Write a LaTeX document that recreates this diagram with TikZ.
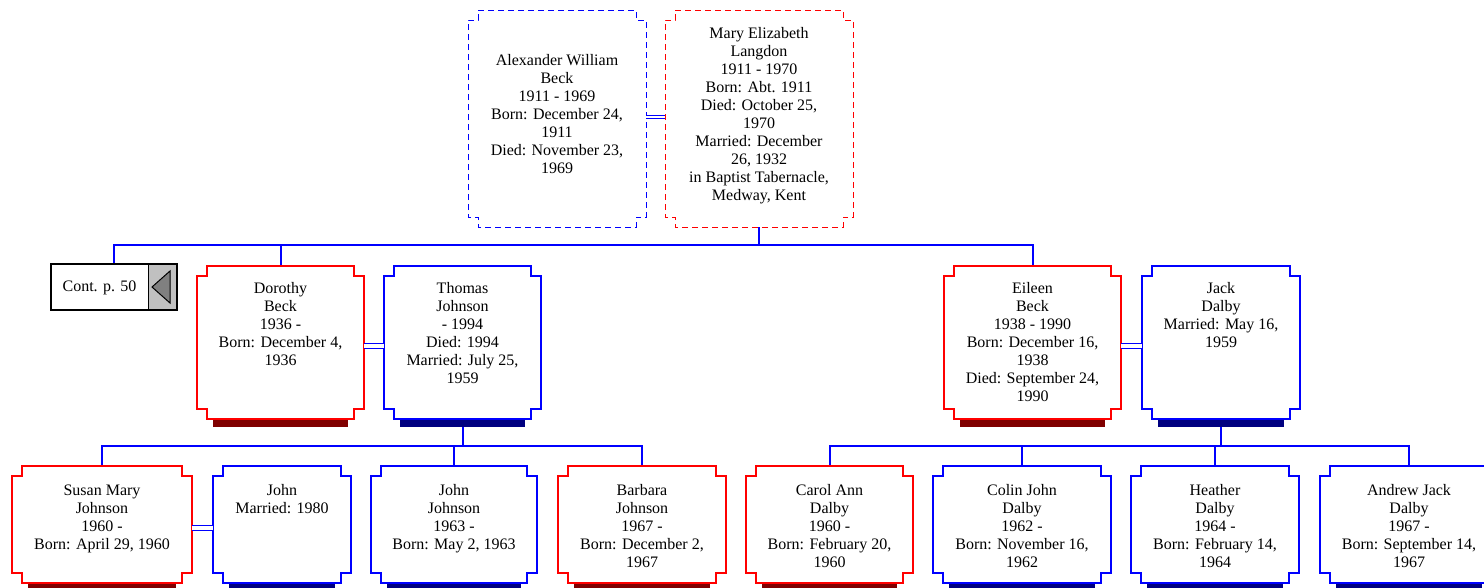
\documentclass[tikz,border=0pt]{standalone}
\usepackage{fontspec}
\setmainfont{Liberation Serif}
\usetikzlibrary{calc,fit}
\definecolor{dred}{HTML}{800000}
\definecolor{dblue}{HTML}{000080}
\definecolor{lgrey}{HTML}{C0C0C0}
\definecolor{mgrey}{HTML}{808080}
\tikzset{
 frame/.style={inner sep=0pt, outer sep=0pt},
 male/.style={draw=blue, line width=2pt},
 female/.style={draw=red, line width=2pt},
 maled/.style={draw=blue, line width=1pt, dash pattern=on 6pt off 4pt},
 femaled/.style={draw=red, line width=1pt, dash pattern=on 6pt off 4pt},
 conn/.style={draw=blue, line width=2pt},
 marr/.style={draw=blue, line width=1.2pt, double=white, double distance=3.8pt},
 marrthin/.style={draw=blue, line width=1pt, double=white, double distance=2.3pt},
 ptext/.style={inner sep=0pt, align=center, anchor=north, font=\fontsize{16}{18}\selectfont},
}
\newcommand\notched[2]{%
 \draw[#2] ($(#1.north west)+(10,0)$) -- ($(#1.north east)+(-10,0)$) -- ++(0,10) -- ++(10,0)
  -- ($(#1.south east)+(0,-10)$) -- ++(-10,0) -- ++(0,10) -- ($(#1.south west)+(10,0)$)
  -- ++(0,-10) -- ++(-10,0) -- ($(#1.north west)+(0,10)$) -- ++(10,0) -- cycle;}
\newcommand\shadowbar[2]{\fill[#2] ($(#1.south west)+(16,0)$) rectangle ($(#1.south east)+(-16,8)$);}
\newcommand\ptxt[3]{\node[ptext] (#1-t) at ($(#1.north)+(0,#2)$) {\rule{0pt}{12pt}#3};}
\begin{document}
\begin{tikzpicture}[x=1pt,y=-1pt]
\useasboundingbox[fill=white] (0,0) rectangle (1484,587);
% frames
\node[frame, fit={(468,10) (646,227)}] (alex) {};
\node[frame, fit={(665,10) (853,227)}] (mary) {};
\node[frame, fit={(51,264) (177,310)}] (cont) {};
\node[frame, fit={(197,266) (364,419)}] (dorothy) {};
\node[frame, fit={(384,266) (541,419)}] (thomas) {};
\node[frame, fit={(944,266) (1121,419)}] (eileen) {};
\node[frame, fit={(1142,266) (1300,419)}] (jack) {};
\node[frame, fit={(12,466) (192,583)}] (susan) {};
\node[frame, fit={(213,466) (351,583)}] (john) {};
\node[frame, fit={(371,466) (537,583)}] (johnj) {};
\node[frame, fit={(558,466) (726,583)}] (barbara) {};
\node[frame, fit={(746,466) (913,583)}] (carol) {};
\node[frame, fit={(933,466) (1111,583)}] (colin) {};
\node[frame, fit={(1131,466) (1299,583)}] (heather) {};
\node[frame, fit={(1320,466) (1498,583)}] (andrew) {};
\coordinate (bar1) at (0,245);
\coordinate (bar2) at (0,446);
\coordinate (m0) at (0,116.7);
\coordinate (m1) at (0,346);
\coordinate (m2) at (0,528);
% connectors
\draw[conn] (cont.north) -- (cont.north |- bar1) -- (eileen.north |- bar1) -- (eileen.north);
\draw[conn] (mary.south) -- (mary.south |- bar1);
\draw[conn] (dorothy.north) -- (dorothy.north |- bar1);
\draw[conn] (susan.north) -- (susan.north |- bar2) -- (barbara.north |- bar2) -- (barbara.north);
\draw[conn] (thomas.south) -- (thomas.south |- bar2);
\draw[conn] (johnj.north) -- (johnj.north |- bar2);
\draw[conn] (carol.north) -- (carol.north |- bar2) -- (andrew.north |- bar2) -- (andrew.north);
\draw[conn] (jack.south) -- (jack.south |- bar2);
\draw[conn] (colin.north) -- (colin.north |- bar2);
\draw[conn] (heather.north) -- (heather.north |- bar2);
% shadows
\shadowbar{dorothy}{dred}
\shadowbar{thomas}{dblue}
\shadowbar{eileen}{dred}
\shadowbar{jack}{dblue}
\shadowbar{susan}{dred}
\shadowbar{john}{dblue}
\shadowbar{johnj}{dblue}
\shadowbar{barbara}{dred}
\shadowbar{carol}{dred}
\shadowbar{colin}{dblue}
\shadowbar{heather}{dblue}
\shadowbar{andrew}{dblue}
% boxes
\notched{alex}{maled}
\notched{mary}{femaled}
\notched{dorothy}{female}
\notched{thomas}{male}
\notched{eileen}{female}
\notched{jack}{male}
\notched{susan}{female}
\notched{john}{male}
\notched{johnj}{male}
\notched{barbara}{female}
\notched{carol}{female}
\notched{colin}{male}
\notched{heather}{male}
\notched{andrew}{male}
% marriages
\draw[marrthin] (alex.east |- m0) -- (mary.west |- m0);
\draw[marr] (dorothy.east |- m1) -- (thomas.west |- m1);
\draw[marr] (eileen.east |- m1) -- (jack.west |- m1);
\draw[marr] (susan.east |- m2) -- (john.west |- m2);
% continuation box
\fill[lgrey] ($(cont.north east)+(-29,0)$) rectangle (cont.south east);
\draw[line width=0.6pt] ($(cont.north east)+(-29,0)$) -- ($(cont.south east)+(-29,0)$);
\filldraw[fill=mgrey, draw=black, line width=1pt] ($(cont.east)+(-25,0)$) -- ($(cont.east)+(-7,-16)$) -- ($(cont.east)+(-7,16)$) -- cycle;
\draw[line width=2pt] (cont.north west) rectangle (cont.south east);
\node[inner sep=0pt, font=\fontsize{16}{18}\selectfont] (cont-t) at ($(cont.west)+(48.5,1)$) {Cont. p. 50};
% texts
\ptxt{alex}{43}{Alexander William\\Beck\\1911 - 1969\\Born: December 24,\\1911\\Died: November 23,\\1969}
\ptxt{mary}{16}{Mary Elizabeth\\Langdon\\1911 - 1970\\Born: Abt. 1911\\Died: October 25,\\1970\\Married: December\\26, 1932\\in Baptist Tabernacle,\\Medway, Kent}
\ptxt{dorothy}{15}{Dorothy\\Beck\\1936 -\\Born: December 4,\\1936}
\ptxt{thomas}{15}{Thomas\\Johnson\\- 1994\\Died: 1994\\Married: July 25,\\1959}
\ptxt{eileen}{15}{Eileen\\Beck\\1938 - 1990\\Born: December 16,\\1938\\Died: September 24,\\1990}
\ptxt{jack}{15}{Jack\\Dalby\\Married: May 16,\\1959}
\ptxt{susan}{17}{Susan Mary\\Johnson\\1960 -\\Born: April 29, 1960}
\ptxt{john}{17}{John\\Married: 1980}
\ptxt{johnj}{17}{John\\Johnson\\1963 -\\Born: May 2, 1963}
\ptxt{barbara}{17}{Barbara\\Johnson\\1967 -\\Born: December 2,\\1967}
\ptxt{carol}{17}{Carol Ann\\Dalby\\1960 -\\Born: February 20,\\1960}
\ptxt{colin}{17}{Colin John\\Dalby\\1962 -\\Born: November 16,\\1962}
\ptxt{heather}{17}{Heather\\Dalby\\1964 -\\Born: February 14,\\1964}
\ptxt{andrew}{17}{Andrew Jack\\Dalby\\1967 -\\Born: September 14,\\1967}
\end{tikzpicture}
\end{document}
